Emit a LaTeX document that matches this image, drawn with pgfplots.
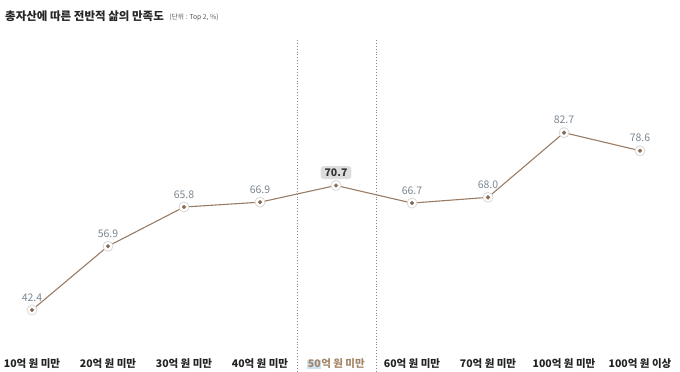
\documentclass[border=0pt]{standalone}
\usepackage{pgfplots}
\pgfplotsset{compat=1.18}
\usepackage{fontspec}
\setmainfont{Noto Sans CJK KR}
\definecolor{linebrown}{HTML}{9A7B63}
\definecolor{dotbrown}{HTML}{8A6C56}
\definecolor{halo}{HTML}{D8D8D8}
\definecolor{vallab}{HTML}{7A8690}
\definecolor{ticklab}{HTML}{222222}
\definecolor{hilab}{HTML}{A38566}
\definecolor{hibg}{HTML}{CFE2F6}
\definecolor{boxbg}{HTML}{DDDDDD}
\definecolor{sepline}{HTML}{888888}
\begin{document}
\begin{tikzpicture}
\setlength\fboxsep{0.6pt}
\begin{axis}[
  at={(0pt,22pt)}, anchor=south west,
  scale only axis, width=680pt, height=310pt,
  xmin=-0.421, xmax=8.526, ymin=33.31, ymax=103.76,
  clip=false,
  axis line style={draw=none},
  major tick length=0pt,
  ytick=\empty,
  xtick={0,...,8},
  xticklabels={10억 원 미만,20억 원 미만,30억 원 미만,40억 원 미만,{\textcolor{hilab}{\colorbox{hibg}{50}억 원 미만}},60억 원 미만,70억 원 미만,100억 원 미만,100억 원 이상},
  xticklabel style={anchor=base, yshift=-18pt, font=\fontsize{10.5pt}{12pt}\selectfont\bfseries, text=ticklab},
]
\draw[sepline, dotted, line width=0.9pt] (axis cs:3.49,103.76) -- (axis cs:3.49,28.2);
\draw[sepline, dotted, line width=0.9pt] (axis cs:4.53,103.76) -- (axis cs:4.53,28.2);
\addplot[linebrown, line width=1.1pt, no marks] coordinates {
(0,42.4) (1,56.9) (2,65.8) (3,66.9) (4,70.7) (5,66.7) (6,68.0) (7,82.7) (8,78.6)};
\addplot[only marks, mark=*, mark size=5pt, mark options={fill=white, draw=halo, line width=0.8pt},
  nodes near coords, point meta=explicit symbolic,
  every node near coord/.append style={font=\fontsize{10.5pt}{12pt}\selectfont, text=vallab, yshift=5pt}]
  coordinates {(0,42.4)[42.4] (1,56.9)[56.9] (2,65.8)[65.8] (3,66.9)[66.9] (5,66.7)[66.7] (6,68.0)[68.0] (7,82.7)[82.7] (8,78.6)[78.6]};
\addplot[only marks, mark=*, mark size=5pt, mark options={fill=white, draw=halo, line width=0.8pt},
  nodes near coords, point meta=explicit symbolic,
  every node near coord/.append style={font=\fontsize{10.5pt}{12pt}\selectfont\bfseries, text=black!80, fill=boxbg, rounded corners=3pt, inner xsep=4pt, inner ysep=2.5pt, yshift=6pt}]
  coordinates {(4,70.7)[70.7]};
\addplot[only marks, mark=*, mark size=1.9pt, mark options={fill=dotbrown, draw=dotbrown}] coordinates {
(0,42.4) (1,56.9) (2,65.8) (3,66.9) (4,70.7) (5,66.7) (6,68.0) (7,82.7) (8,78.6)};
\end{axis}
\node[anchor=west, inner sep=0pt, font=\fontsize{11.5pt}{13pt}\selectfont\bfseries, text=black!85] (t) at (5pt,355.5pt) {총자산에 따른 전반적 삶의 만족도};
\node[anchor=west, inner sep=0pt, font=\fontsize{6.8pt}{8pt}\selectfont, text=black!65] at ([xshift=5pt,yshift=-0.5pt]t.east) {(단위 : Top 2, \%)};
\pgfresetboundingbox
\path (0,0) rectangle (680pt,372pt);
\end{tikzpicture}
\end{document}
